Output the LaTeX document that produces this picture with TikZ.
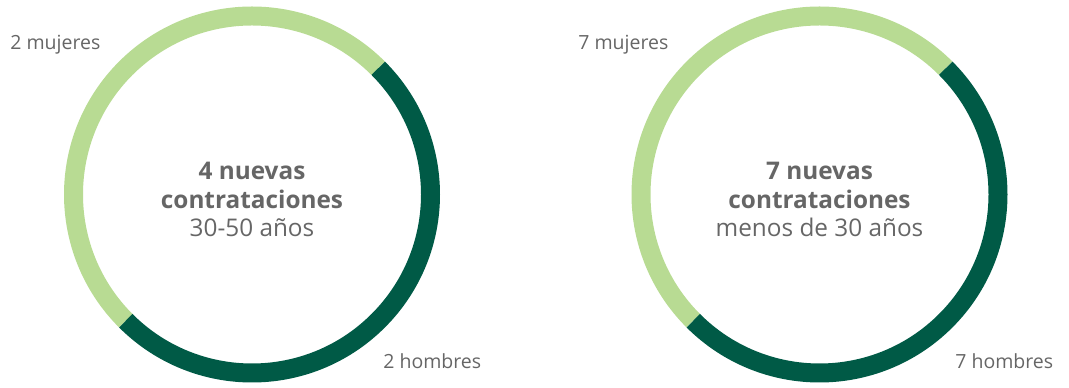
\documentclass[tikz,border=0pt]{standalone}
\usepackage{fontspec}
\setmainfont{Open Sans}
\usetikzlibrary{calc}
\definecolor{verdeosc}{HTML}{005A46}
\definecolor{verdecla}{HTML}{B8DB93}
\definecolor{gristxt}{HTML}{666666}
\tikzset{
  anillo/.style={line width=0.38cm},
  etiqueta/.style={text=gristxt,inner sep=0pt,anchor=west,font=\fontsize{11.1}{12}\selectfont},
  centro/.style={text=gristxt,inner sep=0pt,align=center,font=\fontsize{13.85}{16.1}\selectfont}
}
\begin{document}
\begin{tikzpicture}[x=0.02cm,y=0.02cm]
\useasboundingbox (0,0) rectangle (1069,388);
% anillo 30-50 anos
\coordinate (cA) at (252,193.5);
\draw[anillo,verdecla] ($(cA)+(45:178.5)$) arc (45:225:178.5);
\draw[anillo,verdeosc] ($(cA)+(45:178.5)$) arc (45:-135:178.5);
\node[centro] (txtA) at ($(cA)+(0,-5)$) {\textbf{4 nuevas}\\ \textbf{contrataciones}\\ 30-50 años};
\node[etiqueta] (mujA) at (10,343) {2 mujeres};
\node[etiqueta] (homA) at (383,27) {2 hombres};
% anillo menos de 30 anos
\coordinate (cB) at (819.5,193.5);
\draw[anillo,verdecla] ($(cB)+(45:178.5)$) arc (45:225:178.5);
\draw[anillo,verdeosc] ($(cB)+(45:178.5)$) arc (45:-135:178.5);
\node[centro] (txtB) at ($(cB)+(0,-5)$) {\textbf{7 nuevas}\\ \textbf{contrataciones}\\ menos de 30 años};
\node[etiqueta] (mujB) at (578,343) {7 mujeres};
\node[etiqueta] (homB) at (955,27) {7 hombres};
\end{tikzpicture}
\end{document}
